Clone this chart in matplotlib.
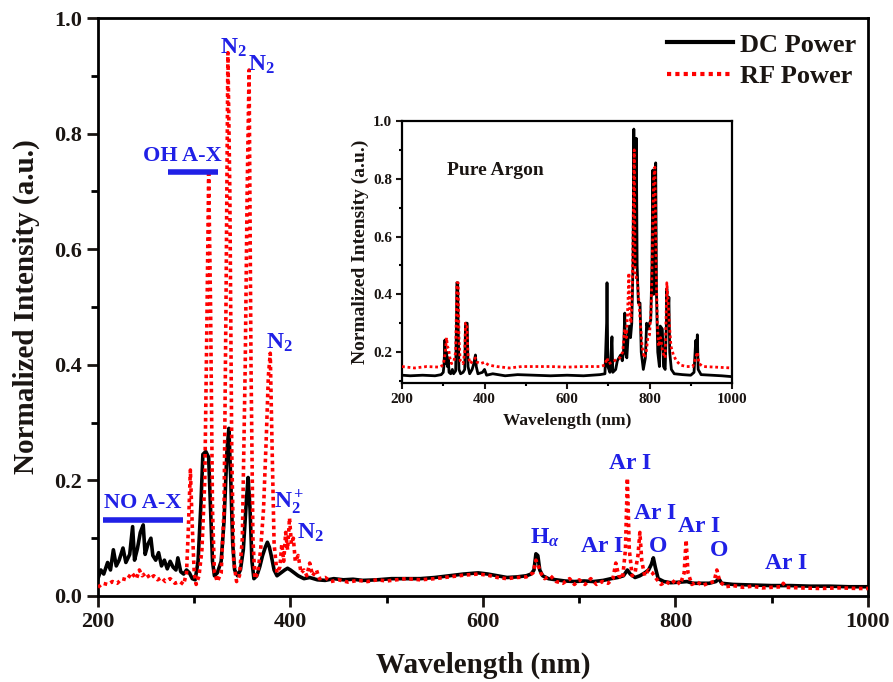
import matplotlib
matplotlib.use('Agg')
import matplotlib.pyplot as plt
from matplotlib.ticker import MultipleLocator

plt.rcParams['font.family'] = ['Liberation Serif', 'DejaVu Serif']
plt.rcParams['font.weight'] = 'bold'
plt.rcParams['mathtext.fontset'] = 'custom'
plt.rcParams['mathtext.rm'] = 'Liberation Serif:bold'
plt.rcParams['mathtext.it'] = 'Liberation Serif:italic:bold'
plt.rcParams['mathtext.bf'] = 'Liberation Serif:bold'

# ---- main spectrum (air / mixture) ----
dc_wl = [200, 203, 206, 210, 213, 216, 219, 222, 226, 229, 233, 236, 238, 241, 244, 247, 249, 252,
         255, 257, 260, 263, 266, 269, 272, 275, 278, 281, 283, 286, 289, 292, 295, 298, 301, 304,
         307, 309, 312, 315, 317, 319, 321, 324, 328, 331, 334, 336, 338, 340, 342, 345, 348, 351,
         354, 356, 358, 360, 362, 365, 368, 371, 374, 376, 378, 380, 383, 386, 390, 394, 397, 400,
         404, 408, 414, 420, 428, 436, 445, 455, 465, 475, 490, 505, 520, 535, 550, 565, 580, 595,
         605, 615, 625, 635, 645, 650, 653, 655, 657, 659, 662, 668, 676, 685, 695, 705, 715, 725,
         733, 740, 746, 750, 753, 758, 763, 768, 772, 775, 777, 779, 782, 788, 795, 805, 812, 818,
         825, 835, 842, 845, 848, 860, 880, 900, 920, 940, 960, 980, 1000]
dc_int = [0.030, 0.045, 0.038, 0.058, 0.045, 0.080, 0.052, 0.062, 0.083, 0.058, 0.072, 0.120, 0.062,
          0.082, 0.110, 0.123, 0.072, 0.090, 0.100, 0.070, 0.062, 0.075, 0.052, 0.062, 0.047, 0.060,
          0.050, 0.045, 0.066, 0.042, 0.038, 0.045, 0.040, 0.030, 0.028, 0.060, 0.160, 0.245, 0.250,
          0.240, 0.150, 0.060, 0.035, 0.040, 0.060, 0.130, 0.250, 0.290, 0.200, 0.090, 0.045, 0.035,
          0.045, 0.080, 0.160, 0.205, 0.150, 0.060, 0.030, 0.035, 0.050, 0.070, 0.085, 0.093, 0.085,
          0.070, 0.045, 0.035, 0.040, 0.045, 0.048, 0.045, 0.040, 0.035, 0.030, 0.032, 0.028, 0.027,
          0.030, 0.028, 0.029, 0.027, 0.028, 0.030, 0.030, 0.030, 0.032, 0.035, 0.038, 0.040, 0.038,
          0.035, 0.032, 0.033, 0.035, 0.038, 0.045, 0.073, 0.070, 0.045, 0.035, 0.030, 0.028, 0.026,
          0.025, 0.026, 0.025, 0.027, 0.030, 0.032, 0.035, 0.045, 0.038, 0.032, 0.035, 0.040, 0.045,
          0.055, 0.066, 0.050, 0.030, 0.025, 0.023, 0.024, 0.025, 0.022, 0.022, 0.022, 0.025, 0.030,
          0.022, 0.020, 0.019, 0.018, 0.018, 0.017, 0.017, 0.016, 0.016]

rf_wl = [200, 205, 210, 215, 220, 225, 230, 235, 240, 243, 246, 250, 254, 258, 262, 266, 270, 275,
         280, 285, 289, 292, 294, 296, 298, 300, 302, 305, 308, 311, 313, 315, 317, 319, 321, 324,
         328, 331, 333, 335, 337, 339, 341, 344, 347, 350, 353, 355, 357, 359, 361, 363, 366, 369,
         372, 375, 377, 379, 381, 383, 386, 389, 391, 393, 395, 397, 399, 401, 403, 405, 408, 411,
         414, 417, 420, 423, 427, 430, 436, 442, 450, 460, 470, 480, 490, 500, 510, 520, 535, 550,
         565, 580, 595, 605, 615, 625, 635, 645, 652, 655, 657, 660, 664, 670, 676, 683, 690, 695,
         700, 706, 712, 718, 724, 730, 735, 738, 741, 745, 748, 750, 752, 755, 758, 761, 763, 765,
         768, 772, 776, 780, 785, 790, 795, 800, 805, 809, 811, 813, 817, 822, 828, 834, 840, 843,
         846, 852, 860, 870, 880, 890, 900, 910, 912, 915, 930, 950, 970, 990, 1000]
rf_int = [0.015, 0.022, 0.020, 0.025, 0.022, 0.030, 0.028, 0.040, 0.030, 0.045, 0.035, 0.040, 0.030,
          0.035, 0.028, 0.032, 0.025, 0.030, 0.022, 0.025, 0.020, 0.040, 0.120, 0.218, 0.120, 0.040,
          0.020, 0.035, 0.080, 0.200, 0.450, 0.730, 0.500, 0.150, 0.040, 0.025, 0.040, 0.150, 0.500,
          0.940, 0.700, 0.250, 0.060, 0.025, 0.035, 0.100, 0.400, 0.700, 0.910, 0.400, 0.100, 0.030,
          0.040, 0.080, 0.150, 0.280, 0.380, 0.420, 0.250, 0.090, 0.040, 0.050, 0.090, 0.060, 0.110,
          0.080, 0.135, 0.090, 0.100, 0.060, 0.070, 0.040, 0.045, 0.035, 0.057, 0.035, 0.045, 0.030,
          0.032, 0.025, 0.028, 0.024, 0.027, 0.025, 0.028, 0.026, 0.028, 0.030, 0.028, 0.030, 0.033,
          0.036, 0.038, 0.036, 0.032, 0.030, 0.032, 0.033, 0.040, 0.062, 0.055, 0.040, 0.030, 0.035,
          0.025, 0.022, 0.030, 0.020, 0.028, 0.020, 0.030, 0.020, 0.025, 0.022, 0.030, 0.057, 0.035,
          0.030, 0.080, 0.204, 0.080, 0.035, 0.040, 0.070, 0.110, 0.060, 0.035, 0.045, 0.040, 0.030,
          0.020, 0.025, 0.020, 0.028, 0.020, 0.040, 0.097, 0.040, 0.020, 0.025, 0.018, 0.022, 0.025,
          0.045, 0.025, 0.016, 0.018, 0.015, 0.017, 0.014, 0.015, 0.016, 0.022, 0.015, 0.014, 0.013,
          0.014, 0.013, 0.013]

# ---- inset spectrum (pure argon) ----
ar_dc_wl = [200, 220, 250, 280, 295, 300, 302, 304, 306, 308, 310, 312, 314, 318, 322, 325, 330, 332,
            333, 335, 336, 338, 342, 348, 352, 354, 358, 360, 364, 370, 374, 378, 380, 384, 395, 400,
            405, 420, 450, 480, 520, 560, 600, 640, 680, 692, 696, 697, 699, 704, 707, 709, 711, 718,
            722, 726, 730, 734, 737, 740, 742, 745, 748, 751, 754, 757, 760, 762, 764, 766, 768, 770,
            773, 777, 780, 785, 790, 793, 797, 800, 803, 806, 808, 810, 813, 815, 817, 820, 824, 826,
            831, 834, 838, 841, 842, 844, 847, 849, 853, 860, 880, 900, 908, 912, 914, 916, 918, 925,
            950, 975, 1000]
ar_dc_int = [0.120, 0.118, 0.120, 0.118, 0.122, 0.130, 0.160, 0.242, 0.160, 0.200, 0.150, 0.180,
             0.130, 0.125, 0.140, 0.125, 0.135, 0.300, 0.440, 0.440, 0.300, 0.140, 0.125, 0.130,
             0.140, 0.300, 0.300, 0.150, 0.125, 0.140, 0.160, 0.190, 0.150, 0.125, 0.130, 0.140,
             0.120, 0.125, 0.118, 0.122, 0.120, 0.118, 0.120, 0.118, 0.122, 0.125, 0.300, 0.440,
             0.150, 0.130, 0.200, 0.253, 0.130, 0.140, 0.170, 0.180, 0.190, 0.170, 0.200, 0.335,
             0.200, 0.180, 0.250, 0.290, 0.250, 0.300, 0.500, 0.972, 0.600, 0.500, 0.940, 0.500,
             0.370, 0.370, 0.200, 0.140, 0.180, 0.300, 0.280, 0.300, 0.310, 0.500, 0.830, 0.400,
             0.600, 0.855, 0.400, 0.200, 0.150, 0.290, 0.280, 0.150, 0.140, 0.300, 0.420, 0.300,
             0.390, 0.200, 0.140, 0.125, 0.122, 0.120, 0.130, 0.240, 0.200, 0.260, 0.140, 0.122,
             0.120, 0.118, 0.115]

ar_rf_wl = [200, 230, 260, 290, 300, 305, 308, 310, 313, 316, 320, 326, 330, 333, 336, 338, 341, 348,
            352, 354, 357, 360, 365, 372, 378, 382, 390, 400, 410, 430, 460, 490, 520, 560, 600, 640,
            680, 692, 697, 701, 710, 720, 728, 735, 740, 744, 748, 750, 752, 755, 758, 761, 763, 765,
            768, 771, 774, 778, 782, 787, 792, 796, 800, 804, 807, 810, 813, 816, 819, 822, 827, 832,
            838, 842, 845, 848, 852, 858, 865, 875, 890, 905, 912, 916, 920, 930, 960, 1000]
ar_rf_int = [0.150, 0.145, 0.150, 0.148, 0.155, 0.200, 0.250, 0.220, 0.210, 0.180, 0.160, 0.170,
             0.200, 0.440, 0.440, 0.250, 0.170, 0.160, 0.200, 0.300, 0.300, 0.190, 0.160, 0.170,
             0.180, 0.165, 0.160, 0.165, 0.155, 0.150, 0.145, 0.150, 0.150, 0.150, 0.148, 0.150,
             0.150, 0.155, 0.180, 0.160, 0.165, 0.175, 0.180, 0.200, 0.280, 0.250, 0.380, 0.474,
             0.350, 0.300, 0.400, 0.700, 0.900, 0.460, 0.460, 0.440, 0.380, 0.300, 0.220, 0.180,
             0.200, 0.250, 0.260, 0.350, 0.550, 0.800, 0.840, 0.500, 0.300, 0.220, 0.250, 0.200,
             0.180, 0.440, 0.380, 0.300, 0.220, 0.190, 0.170, 0.155, 0.150, 0.150, 0.180, 0.200,
             0.160, 0.150, 0.148, 0.145]

# peak annotations: (text, wavelength, intensity)
peak_labels = [('N$_2$', 341, 0.948), ('N$_2$', 370, 0.919), ('N$_2$', 389, 0.438),
               ('N$_2^+$', 399, 0.161), ('N$_2$', 421, 0.109), ('H$_\\alpha$', 664, 0.100),
               ('Ar I', 753, 0.230), ('Ar I', 779, 0.142), ('Ar I', 824, 0.121),
               ('Ar I', 724, 0.085), ('O', 782, 0.085), ('O', 845, 0.078), ('Ar I', 915, 0.057)]
# band annotations: (text, text wl, text y, bar start, bar end, bar y)
band_labels = [('NO A-X', 247, 0.161, 205, 288, 0.1315),
               ('OH A-X', 288, 0.761, 273, 325, 0.7336)]

BLUE = '#2020e6'
TXT = '#1a1512'

fig = plt.figure(figsize=(8.93, 6.82), dpi=100)
ax = fig.add_axes([0.1097, 0.1261, 0.8623, 0.8475])

ax.plot(dc_wl, dc_int, color='black', lw=2.6, label='DC Power', zorder=3)
ax.plot(rf_wl, rf_int, color='red', lw=2.6, ls=(0, (1, 1)), label='RF Power', zorder=4)

ax.set_xlim(200, 1000)
ax.set_ylim(0, 1.0)
ax.xaxis.set_major_locator(MultipleLocator(200))
ax.xaxis.set_minor_locator(MultipleLocator(100))
ax.yaxis.set_major_locator(MultipleLocator(0.2))
ax.yaxis.set_minor_locator(MultipleLocator(0.1))
ax.yaxis.set_major_formatter(plt.FormatStrFormatter('%.1f'))
ax.tick_params(which='major', direction='out', length=8, width=2, labelsize=16, colors=TXT)
ax.tick_params(which='minor', direction='out', length=5, width=2)
for s in ax.spines.values():
    s.set_linewidth(2)
ax.set_xlabel('Wavelength (nm)', fontsize=21, fontweight='bold', color=TXT, labelpad=14)
ax.set_ylabel('Normalized Intensity (a.u.)', fontsize=21, fontweight='bold', color=TXT, labelpad=10)

for txt, wl, y in peak_labels:
    ax.text(wl, y, txt, color=BLUE, fontsize=17, fontweight='bold', ha='center', va='center', zorder=6)
for txt, wl, y, x0, x1, yb in band_labels:
    ax.text(wl, y, txt, color=BLUE, fontsize=16, fontweight='bold', ha='center', va='center', zorder=6)
    ax.plot([x0, x1], [yb, yb], color=BLUE, lw=4, solid_capstyle='butt', zorder=6)

leg = ax.legend(loc='upper right', bbox_to_anchor=(1.015, 1.015), frameon=False, handlelength=2.5,
                handletextpad=0.25, labelspacing=0.3,
                prop={'family': 'Liberation Serif', 'weight': 'bold', 'size': 19})
for t in leg.get_texts():
    t.set_color(TXT)
for h in leg.get_lines():
    h.set_linewidth(3)

# ---- inset ----
axi = fig.add_axes([0.4502, 0.4384, 0.3695, 0.3842])
axi.plot(ar_dc_wl, ar_dc_int, color='black', lw=2, zorder=3)
axi.plot(ar_rf_wl, ar_rf_int, color='red', lw=2, ls=(0, (1, 1)), zorder=4)
axi.set_xlim(200, 1000)
axi.set_ylim(0.093, 1.0)
axi.xaxis.set_major_locator(MultipleLocator(200))
axi.xaxis.set_minor_locator(MultipleLocator(100))
axi.yaxis.set_major_locator(MultipleLocator(0.2))
axi.yaxis.set_minor_locator(MultipleLocator(0.1))
axi.yaxis.set_major_formatter(plt.FormatStrFormatter('%.1f'))
axi.tick_params(which='major', direction='out', length=4, width=1.5, labelsize=11, colors=TXT, pad=3)
axi.tick_params(which='minor', direction='out', length=2.5, width=1.5)
for s in axi.spines.values():
    s.set_linewidth(1.6)
axi.set_xlabel('Wavelength (nm)', fontsize=12.5, fontweight='bold', color=TXT, labelpad=5)
axi.set_ylabel('Normalized Intensity (a.u.)', fontsize=14, fontweight='bold', color=TXT, labelpad=3)
axi.text(0.135, 0.81, 'Pure Argon', transform=axi.transAxes, fontsize=14, fontweight='bold',
         color=TXT, ha='left', va='center')

fig.savefig('out.png', dpi=100)
